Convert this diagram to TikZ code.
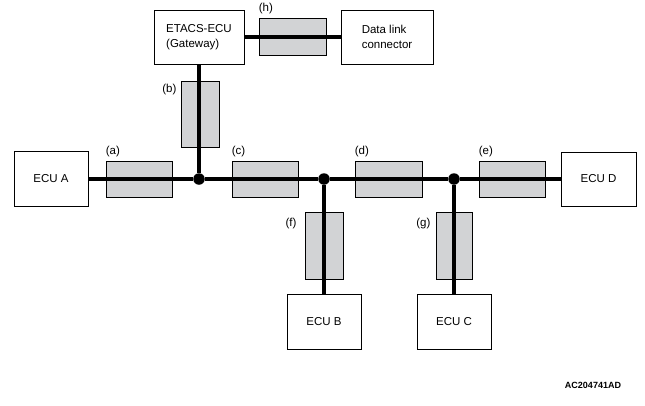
\documentclass[tikz,border=0pt]{standalone}
\usepackage{fontspec}
\setmainfont{Liberation Sans}
\usepackage{xcolor}
\usetikzlibrary{positioning}
\definecolor{cgris}{HTML}{D2D3D5}
\tikzset{
  ecu/.style={rectangle, draw=black, line width=0.8pt, fill=white, align=left,
    inner sep=0pt, font=\fontsize{11.5}{15}\selectfont},
  filtro/.style={rectangle, draw=black, line width=0.8pt, fill=cgris, inner sep=0pt},
  bus/.style={line width=4.5pt, draw=black},
  punto/.style={circle, fill=black, inner sep=0pt, minimum size=11.5pt},
  etq/.style={font=\fontsize{11.5}{13}\selectfont, inner sep=0pt},
}

\begin{document}
\begin{tikzpicture}[x=1pt, y=-1pt]
  \useasboundingbox (0,0) rectangle (645,405);
  % unidades
  \node[ecu, minimum width=90pt, minimum height=54pt] (etacs) at (199,37) {ETACS-ECU\\(Gateway)};
  \node[ecu, minimum width=92pt, minimum height=54pt] (dlc) at (387,37) {Data link\\connector};
  \node[ecu, minimum width=74pt, minimum height=55pt] (ecua) at (51,179) {ECU A};
  \node[ecu, minimum width=75pt, minimum height=54pt] (ecud) at (598.5,179) {ECU D};
  \node[ecu, minimum width=74pt, minimum height=55pt] (ecub) at (324,321.5) {ECU B};
  \node[ecu, minimum width=74pt, minimum height=55pt] (ecuc) at (454,321.5) {ECU C};
  % resistencias
  \node[filtro, minimum width=67pt, minimum height=37pt] (fh) at (292.5,37) {};
  \node[filtro, minimum width=38pt, minimum height=66pt] (fb) at (200,114) {};
  \node[filtro, minimum width=66pt, minimum height=36pt] (fa) at (139,179) {};
  \node[filtro, minimum width=66pt, minimum height=36pt] (fc) at (265,179) {};
  \node[filtro, minimum width=67pt, minimum height=36pt] (fd) at (388.5,179) {};
  \node[filtro, minimum width=66pt, minimum height=36pt] (fe) at (512,179) {};
  \node[filtro, minimum width=38pt, minimum height=67pt] (ff) at (324,245.5) {};
  \node[filtro, minimum width=36pt, minimum height=67pt] (fg) at (454,245.5) {};
  % nudos
  \node[punto] (j1) at (199,179) {};
  \node[punto] (j2) at (324,179) {};
  \node[punto] (j3) at (454,179) {};
  \draw[bus] (ecua) -- (j1) -- (j2) -- (j3) -- (ecud);
  \draw[bus] (etacs) -- (j1);
  \draw[bus] (j2) -- (ecub);
  \draw[bus] (j3) -- (ecuc);
  \draw[bus] (etacs) -- (dlc);
  % etiquetas
  \node[etq, anchor=south west, yshift=4pt] (la) at (fa.north west) {(a)};
  \node[etq, anchor=south west, yshift=4pt] (lc) at (fc.north west) {(c)};
  \node[etq, anchor=south west, yshift=4pt] (ld) at (fd.north west) {(d)};
  \node[etq, anchor=south west, yshift=4pt] (le) at (fe.north west) {(e)};
  \node[etq, anchor=south west, yshift=4pt] (lh) at (fh.north west) {(h)};
  \node[etq, anchor=north east, xshift=-4pt, yshift=-3pt] (lb) at (fb.north west) {(b)};
  \node[etq, anchor=north east, xshift=-8pt, yshift=-6pt] (lf) at (ff.north west) {(f)};
  \node[etq, anchor=north east, xshift=-5pt, yshift=-6pt] (lg) at (fg.north west) {(g)};
  \node[font=\bfseries\fontsize{9}{10}\selectfont] (codigo) at (593,385) {AC204741AD};
\end{tikzpicture}
\end{document}
